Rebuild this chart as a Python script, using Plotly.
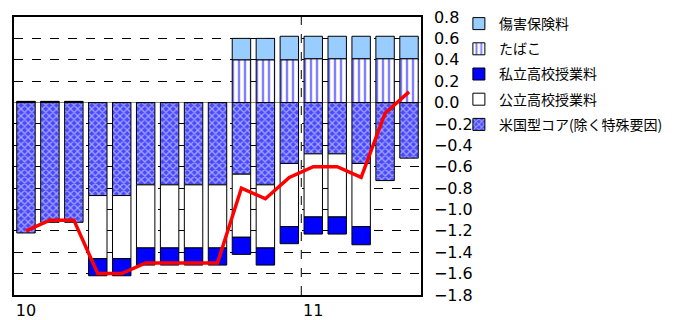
import plotly.graph_objects as go

# Month index (Jan 2010 .. May 2011)
months = list(range(17))
tick_pos = [0, 12]
tick_labels = ["10", "11"]

core = [-1.22, -1.12, -1.12, -0.87, -0.87, -0.77, -0.77, -0.77, -0.77,
        -0.67, -0.77, -0.57, -0.48, -0.48, -0.57, -0.73, -0.52]
public_hs = [0, 0, 0, -0.59, -0.59, -0.59, -0.59, -0.59, -0.59,
             -0.59, -0.59, -0.59, -0.59, -0.59, -0.59, 0, 0]
private_hs = [0.01, 0.01, 0.01, -0.16, -0.16, -0.16, -0.16, -0.16, -0.16,
              -0.16, -0.16, -0.16, -0.16, -0.16, -0.17, 0, 0]
tobacco = [0, 0, 0, 0, 0, 0, 0, 0, 0,
           0.40, 0.40, 0.40, 0.41, 0.41, 0.41, 0.41, 0.41]
insurance = [0, 0, 0, 0, 0, 0, 0, 0, 0,
             0.20, 0.20, 0.22, 0.21, 0.21, 0.21, 0.21, 0.21]
total = [-1.2, -1.1, -1.1, -1.6, -1.6, -1.5, -1.5, -1.5, -1.5,
         -0.8, -0.9, -0.7, -0.6, -0.6, -0.7, -0.1, 0.1]

names = ["米国型コア(除く特殊要因)", "公立高校授業料", "私立高校授業料", "たばこ", "傷害保険料"]

line_style = dict(color="black", width=1)
fig = go.Figure()
fig.add_bar(x=months, y=core, name=names[0], width=0.77, legendgroup="a", legendrank=5,
            marker=dict(color="#4848ff", line=line_style,
                        pattern=dict(shape="x", fgcolor="white", bgcolor="#4848ff",
                                     size=5, solidity=0.45)))
fig.add_bar(x=months, y=public_hs, name=names[1], width=0.77, legendgroup="b", legendrank=4,
            marker=dict(color="white", line=line_style))
fig.add_bar(x=months, y=private_hs, name=names[2], width=0.77, legendgroup="c", legendrank=3,
            marker=dict(color="#0000ff", line=line_style))
fig.add_bar(x=months, y=tobacco, name=names[3], width=0.77, legendgroup="d", legendrank=2,
            marker=dict(color="white", line=line_style,
                        pattern=dict(shape="|", fgcolor="#0000ff", bgcolor="white",
                                     size=6, solidity=0.4)))
fig.add_bar(x=months, y=insurance, name=names[4], width=0.77, legendgroup="e", legendrank=1,
            marker=dict(color="#99ccff", line=line_style))
fig.add_scatter(x=months, y=total, mode="lines", showlegend=False,
                line=dict(color="#ff0000", width=3.5))

fig.add_vline(x=tick_pos[1] - 0.5, line=dict(color="black", width=1, dash="dash"))

fig.update_layout(
    width=666, height=312,
    barmode="relative",
    plot_bgcolor="white", paper_bgcolor="white",
    margin=dict(l=6, r=253, t=9, b=25, pad=0, autoexpand=False),
    font=dict(family="DejaVu Sans", color="black"),
    legend=dict(xref="container", yref="container", x=0.677, y=1.0,
                xanchor="left", yanchor="top", traceorder="grouped",
                tracegroupgap=4,
                font=dict(family="Noto Sans CJK JP", size=14, color="black"),
                bgcolor="rgba(0,0,0,0)"),
    showlegend=True,
)
fig.update_xaxes(range=[-0.5, 16.5], tickvals=tick_pos, ticktext=tick_labels,
                 showgrid=False, showline=True, mirror=True, linecolor="black",
                 linewidth=1.5, ticks="", tickfont=dict(size=16), zeroline=False)
fig.update_yaxes(side="right", range=[-1.8, 0.80001], dtick=0.2, tick0=0, tickformat=".1f",
                 showgrid=True, gridcolor="black", griddash="dash", gridwidth=1,
                 zeroline=True, zerolinecolor="#888888", zerolinewidth=1,
                 showline=True, mirror=True, linecolor="black", linewidth=1.5,
                 ticks="", ticklabelstandoff=8, ticklabeloverflow="allow",
                 tickfont=dict(size=16))

fig.write_html("out.html")
